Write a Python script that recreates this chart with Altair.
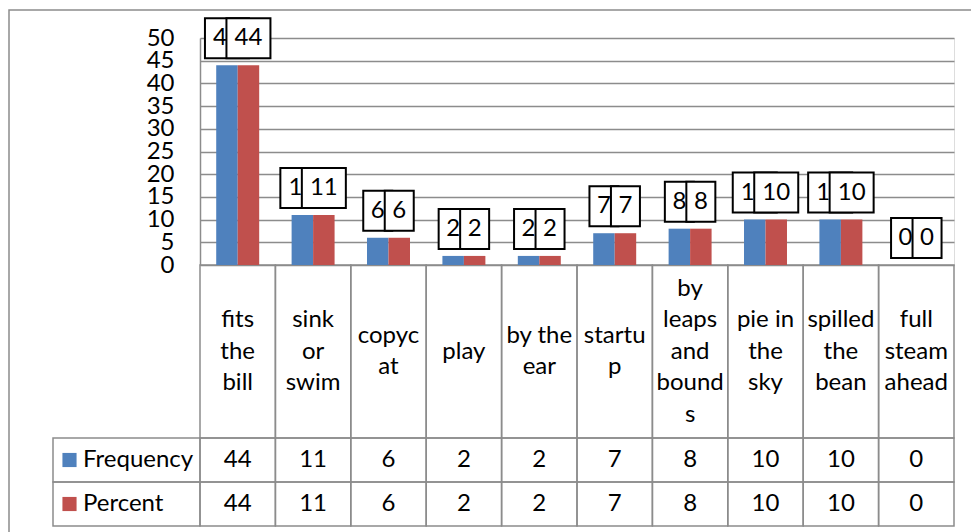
import altair as alt
import pandas as pd

# Idioms and how often each was chosen
categories = ["fits the bill", "sink or swim", "copycat", "play", "by the ear",
              "startup", "by leaps and bounds", "pie in the sky", "spilled the bean",
              "full steam ahead"]
# category text as it wraps inside the narrow table cells
category_lines = ["fits\nthe\nbill", "sink\nor\nswim", "copyc\nat", "play", "by the\near",
                  "startu\np", "by\nleaps\nand\nbound\ns", "pie in\nthe\nsky",
                  "spilled\nthe\nbean", "full\nsteam\nahead"]
series = ["Frequency", "Percent"]
frequency = [44, 11, 6, 2, 2, 7, 8, 10, 10, 0]
percent = [44, 11, 6, 2, 2, 7, 8, 10, 10, 0]
y_ticks = list(range(0, 51, 5))

colors = ["#4F81BD", "#C0504D"]
grid = "#8c8c8c"
FONT = "Lato"
FS = 24
LINE_H = 31.5

rows = []
for i, cat in enumerate(categories):
    for s, vals in zip(series, [frequency, percent]):
        rows.append({"category": cat, "label": category_lines[i],
                     "nlines": category_lines[i].count("\n") + 1, "series": s,
                     "value": vals[i], "digits": str(len(str(vals[i])))})
df = pd.DataFrame(rows)

W, H = 754, 227
base = alt.Chart(df)

# scales: bars sit in padded bands, table cells fill whole bands
x_bar = alt.X("category:N", sort=categories,
              scale=alt.Scale(domain=categories, paddingInner=0.43, paddingOuter=0.215),
              axis=None)
x_off = alt.XOffset("series:N", scale=alt.Scale(domain=series, paddingInner=0, paddingOuter=0))
x_tab = alt.X("category:N", sort=categories,
              scale=alt.Scale(domain=categories, paddingInner=0, paddingOuter=0), axis=None)
y_scale = alt.Scale(domain=[0, 50], nice=False, zero=True)
y_axis = alt.Y("value:Q", scale=y_scale, title=None,
               axis=alt.Axis(values=y_ticks, grid=True, gridColor=grid, gridWidth=1.3,
                             domainColor=grid, domainWidth=1.5, ticks=False,
                             labelPadding=26, labelFont=FONT, labelFontSize=FS,
                             labelColor="black", labelOverlap=False, labelFlush=False))
y_val = alt.Y("value:Q", scale=y_scale, axis=None)
y_row = alt.Y("series:N", scale=alt.Scale(domain=series, range=[400, 488],
                                          paddingInner=0, paddingOuter=0), axis=None)
color = alt.Color("series:N", scale=alt.Scale(domain=series, range=colors), legend=None)

one_per_cat = base.transform_filter(alt.datum.series == "Frequency")
one_per_series = base.transform_filter(alt.datum.category == categories[0])

frame = base.transform_filter(
    (alt.datum.category == categories[0]) & (alt.datum.series == "Frequency")
).mark_rect(fillOpacity=0, stroke=grid, strokeWidth=1.5).encode(
    x=alt.value(-191), x2=alt.value(800), y=alt.value(-28), y2=alt.value(520))

bars = base.mark_bar().encode(x=x_bar, xOffset=x_off, y=y_axis, color=color)

# category label row of the data table, each block centred in its cell
cat_cells = one_per_cat.mark_rect(fillOpacity=0, stroke=grid, strokeWidth=1.5).encode(
    x=x_tab, y=alt.value(227), y2=alt.value(400))
cat_text_layers = []
for n in sorted(set(df["nlines"])):
    cat_text_layers.append(
        one_per_cat.transform_filter(alt.datum.nlines == n).mark_text(
            font=FONT, fontSize=FS, lineBreak="\n", lineHeight=LINE_H,
            baseline="middle", color="black", dy=-(n - 1) / 2 * LINE_H).encode(
            x=x_tab, y=alt.value(313.5), text="label:N"))

# value rows of the data table
val_cells = base.mark_rect(fillOpacity=0, stroke=grid, strokeWidth=1.5).encode(
    x=x_tab, y=y_row)
val_text = base.mark_text(font=FONT, fontSize=FS, baseline="middle", color="black").encode(
    x=x_tab, y=y_row, text="value:Q")

# legend keys in the first table column
key_cells = one_per_series.mark_rect(fillOpacity=0, stroke=grid, strokeWidth=1.5).encode(
    x=alt.value(-147), x2=alt.value(0), y=y_row)
key_swatch = one_per_series.mark_square(size=200, opacity=1, filled=True).encode(
    x=alt.value(-130.5), y=y_row, color=color)
key_text = one_per_series.mark_text(font=FONT, fontSize=FS, align="left", baseline="middle",
                                    color="black").encode(
    x=alt.value(-117), y=y_row, text="series:N")

# boxed value labels above the bars, Percent drawn over Frequency
box_paths = ["M-0.725,-1H0.725V1H-0.725Z", "M-1.1,-1H1.1V1H-1.1Z"]
label_layers = []
for s in series:
    sub = base.transform_filter(alt.datum.series == s)
    label_layers.append(sub.mark_point(filled=True, fill="white", stroke="black",
                                       strokeWidth=2, size=1600, opacity=1, fillOpacity=1,
                                       yOffset=-27).encode(
        x=x_bar, xOffset=x_off, y=y_val,
        shape=alt.Shape("digits:N", scale=alt.Scale(domain=["1", "2"], range=box_paths),
                        legend=None)))
    label_layers.append(sub.mark_text(font=FONT, fontSize=FS, baseline="middle",
                                      color="black", yOffset=-27).encode(
        x=x_bar, xOffset=x_off, y=y_val, text="value:Q"))

chart = alt.layer(
    frame, cat_cells, val_cells, key_cells, bars, *cat_text_layers, val_text, key_swatch,
    key_text, *label_layers
).resolve_scale(
    x="independent", y="independent"
).properties(
    width=W, height=H,
    padding={"left": 200, "top": 38, "right": 17, "bottom": 267},
    autosize=alt.AutoSizeParams(type="none"),
).configure_view(strokeWidth=0).configure(font=FONT)

chart.save("out.html", embed_options={"renderer": "svg", "actions": False})
